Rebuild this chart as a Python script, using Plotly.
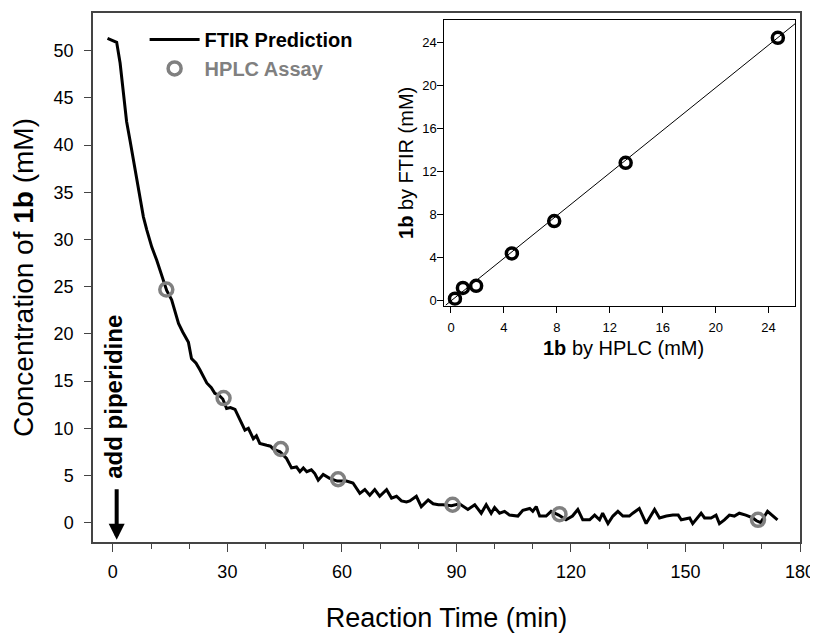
import plotly.graph_objects as go

# ---------------- data ----------------
ftir_time = [
    -1.4, 1.0, 1.9, 2.8, 3.6, 4.5, 5.4, 6.3, 7.1, 8.0,
    8.9, 10.2, 11.5, 12.8, 14.1, 15.4, 16.7, 17.2, 18.3, 19.8,
    20.6, 21.8, 22.8, 23.8, 24.6, 25.8, 26.7, 27.8, 28.8, 29.8,
    30.8, 32.0, 33.3, 34.6, 35.5, 36.8, 37.6, 38.5, 40.3, 41.3,
    42.0, 43.8, 45.5, 46.8, 48.1, 49.0, 49.9, 50.8, 52.0, 52.9,
    53.8, 55.1, 56.8, 58.8, 61.2, 62.9, 64.7, 66.0, 67.3, 68.6,
    69.9, 71.7, 73.0, 74.3, 75.6, 76.9, 77.8, 79.5, 80.8, 82.6,
    83.9, 85.3, 86.5, 88.7, 90.8, 93.0, 94.8, 96.5, 97.8, 99.1,
    100.0, 101.3, 102.6, 103.9, 106.1, 107.4, 109.2, 110.0, 110.9, 111.8,
    113.5, 114.8, 116.8, 118.7, 120.4, 121.8, 123.1, 124.9, 126.2, 127.5,
    128.3, 129.7, 131.0, 132.3, 133.6, 135.3, 136.2, 137.9, 139.7, 141.9,
    143.2, 145.0, 146.7, 148.1, 148.9, 151.1, 151.9, 154.1, 155.0, 156.7,
    158.0, 158.9, 160.2, 161.5, 162.8, 164.1, 165.8, 167.6, 168.6, 169.7,
    171.5, 172.8, 174.1,
]
ftir_conc = [
    51.3, 50.9, 48.7, 45.3, 42.5, 40.5, 38.3, 36.2, 34.4, 32.4,
    31.0, 29.2, 27.8, 26.1, 24.6, 23.6, 21.6, 21.1, 20.2, 19.1,
    17.4, 16.9, 16.2, 15.5, 14.8, 14.3, 13.7, 13.5, 13.1, 12.1,
    12.2, 12.0, 10.9, 9.8, 10.0, 8.9, 9.2, 8.4, 8.2, 8.1,
    7.8, 7.5, 6.8, 5.8, 5.9, 5.4, 5.8, 5.4, 5.6, 5.2,
    4.5, 5.1, 4.7, 4.4, 4.4, 4.2, 3.1, 3.5, 2.9, 3.5,
    2.8, 3.5, 2.6, 2.8, 2.3, 2.2, 2.3, 2.8, 1.7, 2.4,
    2.0, 1.9, 1.9, 1.8, 2.0, 1.4, 1.9, 1.0, 1.9, 1.0,
    1.6, 1.0, 1.2, 0.8, 0.7, 1.3, 1.5, 1.2, 1.7, 0.7,
    0.7, 1.2, 0.8, 0.3, 0.7, 1.4, 0.3, 0.3, 0.8, 0.3,
    1.0, -0.1, 0.7, 1.2, 0.7, 0.7, 1.0, 1.5, -0.1, 1.4,
    0.5, 0.7, 0.8, 0.8, 0.3, 0.5, -0.1, 1.0, 0.5, 0.5,
    0.8, -0.1, 0.3, 0.8, 0.7, 1.0, 0.8, 0.5, 0.2, 0.0,
    1.2, 0.7, 0.3,
]

hplc_time = [14, 29, 44, 59, 89, 117, 169]
hplc_conc = [24.7, 13.2, 7.8, 4.6, 1.9, 0.9, 0.3]

# inset: FTIR prediction vs HPLC assay at the sampling times
inset_hplc = [24.7, 13.2, 7.8, 4.6, 1.9, 0.9, 0.3]
inset_ftir = [24.4, 12.8, 7.4, 4.4, 1.4, 1.2, 0.2]
fit_x = [-0.4, 26.0]
fit_y = [-0.4, 25.7]

main_xticks = [0, 30, 60, 90, 120, 150, 180]
main_yticks = [0, 5, 10, 15, 20, 25, 30, 35, 40, 45, 50]
inset_ticks = [0, 4, 8, 12, 16, 20, 24]

piperidine_time = 1.0
label_time = 0.2
arrow_top = 3.7
arrow_tip = -1.8
label_conc = 13.3

FONT = "Liberation Sans, Arial, sans-serif"
GRAY = "#808080"

fig = go.Figure()

fig.add_trace(go.Scatter(
    x=ftir_time, y=ftir_conc, mode="lines", name="<b>FTIR Prediction</b>",
    line=dict(color="black", width=3), xaxis="x", yaxis="y",
))
fig.add_trace(go.Scatter(
    x=hplc_time, y=hplc_conc, mode="markers",
    name="<b><span style='color:#808080'>HPLC Assay</span></b>",
    marker=dict(symbol="circle-open", size=13, color=GRAY,
                line=dict(color=GRAY, width=3.5)),
    xaxis="x", yaxis="y",
))

# inset
fig.add_trace(go.Scatter(
    x=fit_x, y=fit_y, mode="lines", line=dict(color="black", width=1),
    xaxis="x2", yaxis="y2", showlegend=False,
))
fig.add_trace(go.Scatter(
    x=inset_hplc, y=inset_ftir, mode="markers",
    marker=dict(symbol="circle-open", size=11, color="black",
                line=dict(color="black", width=3.5)),
    xaxis="x2", yaxis="y2", showlegend=False,
))

frame = dict(showline=True, mirror=True, linecolor="#444444", linewidth=1.5,
             showgrid=False, zeroline=False, automargin=False)

# page body has an 8px margin, so the figure is 8px smaller than the window
fig.update_layout(
    width=810, height=626,
    margin=dict(l=85, r=18, t=5, b=92),
    paper_bgcolor="white", plot_bgcolor="white",
    font=dict(family=FONT, color="black"),
    xaxis=dict(
        domain=[0, 1], range=[-5.2, 180], tickvals=main_xticks,
        ticks="outside", ticklen=8, tickwidth=1.2, tickcolor="#444444",
        minor=dict(dtick=10, tick0=0, ticks="outside", ticklen=5, tickcolor="#444444"),
        tickfont=dict(size=18, family=FONT), ticklabelstandoff=5,
        title=dict(text="Reaction Time (min)", font=dict(size=27, family=FONT), standoff=27),
        **frame,
    ),
    yaxis=dict(
        domain=[0, 1], range=[-2.05, 54], tickvals=main_yticks,
        ticks="outside", ticklen=7, tickwidth=1.2, tickcolor="#444444",
        tickfont=dict(size=18, family=FONT), ticklabelstandoff=7,
        title=dict(text="Concentration of <b>1b</b> (mM)", font=dict(size=28, family=FONT), standoff=14),
        **frame,
    ),
    xaxis2=dict(
        domain=[0.497, 0.993], anchor="y2", range=[-0.5, 26], tickvals=inset_ticks,
        ticks="outside", ticklen=6, tickcolor="black",
        tickfont=dict(size=13, family=FONT), ticklabelstandoff=4,
        showline=True, mirror=True, linecolor="black", linewidth=1,
        showgrid=False, zeroline=False, automargin=False,
    ),
    yaxis2=dict(
        domain=[0.4467, 0.9868], anchor="x2", range=[-0.45, 26.05], tickvals=inset_ticks,
        ticks="outside", ticklen=6, tickcolor="black",
        tickfont=dict(size=13, family=FONT), ticklabelstandoff=-2,
        showline=True, mirror=True, linecolor="black", linewidth=1,
        showgrid=False, zeroline=False, automargin=False,
        title=dict(text="<b>1b</b> by FTIR (mM)", font=dict(size=20, family=FONT), standoff=3),
    ),
    legend=dict(
        x=0.073, y=0.987, xanchor="left", yanchor="top",
        bgcolor="rgba(0,0,0,0)", borderwidth=0,
        font=dict(size=20, family=FONT, color="black"),
        itemwidth=50, tracegroupgap=0,
    ),
    showlegend=True,
)

# inset x-axis title (placed tight under the tick labels, as in the original)
fig.add_annotation(
    x=0.7504, y=0.3667, xref="paper", yref="paper", xanchor="center", yanchor="middle",
    text="<b>1b</b> by HPLC (mM)", showarrow=False,
    font=dict(size=20, family=FONT, color="black"),
)

fig.add_annotation(
    x=piperidine_time, y=arrow_tip, ax=piperidine_time, ay=arrow_top,
    xref="x", yref="y", axref="x", ayref="y",
    showarrow=True, arrowhead=2, arrowsize=0.8, arrowwidth=4, arrowcolor="black", text="",
)
fig.add_annotation(
    x=label_time, y=label_conc, xref="x", yref="y",
    text="<b>add piperidine</b>", textangle=-90, showarrow=False,
    font=dict(size=24, family=FONT, color="black"),
)

fig.write_html("out.html")
